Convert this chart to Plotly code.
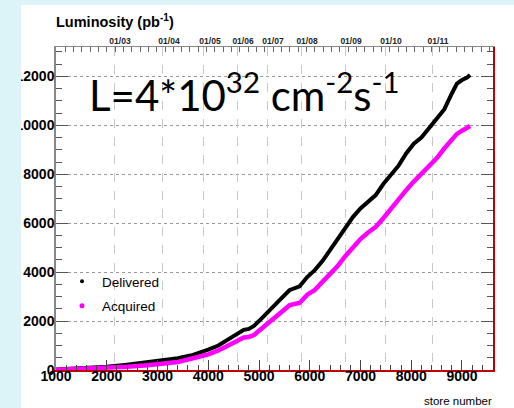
import plotly.graph_objects as go

# ---------------- data ----------------
store = [1000, 1300, 1600, 2000, 2400, 2800, 3100, 3400, 3700, 3800, 3850, 4000,
         4200, 4400, 4600, 4700, 4800, 4900, 5000, 5150, 5300, 5450, 5600, 5700,
         5800, 5950, 6100, 6250, 6400, 6550, 6700, 6850, 7000, 7150, 7300, 7450,
         7600, 7750, 7900, 8050, 8200, 8350, 8500, 8650, 8800, 8900, 9000, 9100, 9160]
delivered = [20, 50, 80, 130, 220, 310, 390, 480, 620, 680, 700, 830,
             1000, 1250, 1500, 1640, 1680, 1800, 2000, 2300, 2620, 2950, 3260, 3330,
             3420, 3800, 4080, 4450, 4900, 5300, 5800, 6250, 6600, 6850, 7150, 7600,
             7950, 8350, 8850, 9250, 9500, 9900, 10300, 10650, 11300, 11700, 11850, 11950, 12060]
acquired = [10, 30, 50, 80, 130, 190, 240, 330, 480, 530, 560, 640,
            800, 1000, 1250, 1330, 1350, 1430, 1600, 1850, 2100, 2380, 2640, 2700,
            2740, 3080, 3270, 3600, 3930, 4250, 4650, 5020, 5350, 5620, 5850, 6200,
            6600, 6950, 7350, 7700, 8020, 8300, 8650, 9050, 9450, 9650, 9780, 9880, 9970]

date_stores = [2143, 3108, 3916, 4567, 5158, 5828, 6695, 7483, 8409]
date_labels = ["01/03", "01/04", "01/05", "01/06", "01/07", "01/08", "01/09", "01/10", "01/11"]

x_range = [1000, 9611]
y_range = [0, 13200]

SANS = "Liberation Sans Narrow, Arial Narrow, Liberation Sans, Arial, sans-serif"
CYAN = "#dcf3f8"
RED = "#c00000"

fig = go.Figure()
fig.add_trace(go.Scatter(x=store, y=delivered, mode="lines", showlegend=False,
                         line=dict(color="black", width=4)))
fig.add_trace(go.Scatter(x=store, y=acquired, mode="lines", showlegend=False,
                         line=dict(color="#ff00ff", width=4.5)))
# legend entries (dots), also anchor the overlay axes
fig.add_trace(go.Scatter(x=[None], y=[None], mode="markers", name="Delivered",
                         legendgroup="d", marker=dict(color="black", size=4), xaxis="x2"))
fig.add_trace(go.Scatter(x=[None], y=[None], mode="markers", name="Acquired",
                         legendgroup="a", marker=dict(color="#ff00ff", size=5),
                         xaxis="x3", yaxis="y2"))

W, H = 514, 408
L, R, T, B = 56, 21, 47, 38
pw, ph = W - L - R, H - T - B

def px(xp):
    return (xp - L) / pw

def py(yp):
    return (H - B - yp) / ph

fig.update_layout(
    width=W, height=H,
    margin=dict(l=L, r=R, t=T, b=B, pad=0),
    paper_bgcolor="white", plot_bgcolor="white",
    xaxis=dict(range=x_range, tick0=1000, dtick=1000, ticks="inside", ticklen=10,
               tickcolor="#444", tickwidth=1, showline=True, linecolor=RED, linewidth=1.5,
               showgrid=False, zeroline=False, tickformat="d", ticklabelstandoff=-8,
               tickfont=dict(family=SANS, size=14, color="black", weight="bold"),
               minor=dict(dtick=200, ticks="inside", ticklen=5, tickcolor="#444")),
    xaxis2=dict(range=x_range, overlaying="x", side="top", tickmode="array",
                tickvals=date_stores, ticktext=date_labels, ticks="", showline=False,
                showgrid=True, gridcolor="#c8c8c8", griddash="dash", gridwidth=1,
                zeroline=False, ticklabelshift=6,
                tickfont=dict(family=SANS, size=8.5, color="#222", weight="bold")),
    xaxis3=dict(range=x_range, overlaying="x", side="top", tick0=1180, dtick=164,
                ticks="inside", ticklen=5, tickcolor="#666", showticklabels=False,
                showline=True, linecolor="#888", linewidth=1, showgrid=False, zeroline=False),
    yaxis=dict(range=y_range, dtick=2000, ticks="inside", ticklen=12, tickcolor="#555",
               showline=True, linecolor="#888", linewidth=1.5, showgrid=True,
               gridcolor="#999", griddash="dot", gridwidth=1, zeroline=False,
               tickformat="d", ticklabelstandoff=-3,
               tickfont=dict(family=SANS, size=14, color="black", weight="bold"),
               minor=dict(dtick=500, ticks="inside", ticklen=6, tickcolor="#555")),
    yaxis2=dict(range=y_range, overlaying="y", side="right", dtick=2000, ticks="inside",
                ticklen=12, tickcolor="#555", showticklabels=False, showline=True,
                linecolor=RED, linewidth=1.5, showgrid=False, zeroline=False,
                minor=dict(dtick=500, ticks="inside", ticklen=6, tickcolor="#555")),
    legend=dict(x=px(62), y=py(266), xanchor="left", yanchor="top", tracegroupgap=4,
                bgcolor="rgba(0,0,0,0)", font=dict(family=SANS, size=13.5, color="black"),
                itemwidth=30),
    shapes=[
        # the legend box hides part of the 4000 grid line
        dict(type="rect", xref="paper", yref="paper", x0=px(67), x1=px(195),
             y0=py(275), y1=py(271), fillcolor="white", line=dict(width=0), layer="between"),
        dict(type="rect", xref="paper", yref="paper", x0=px(0), x1=px(21), y0=py(H), y1=py(0),
             fillcolor=CYAN, line=dict(width=0), layer="above"),
        dict(type="rect", xref="paper", yref="paper", x0=px(0), x1=px(W), y0=py(5), y1=py(0),
             fillcolor=CYAN, line=dict(width=0), layer="above"),
    ],
    annotations=[
        dict(text="<b>Luminosity (pb<sup>-1</sup>)</b>", xref="paper", yref="paper",
             x=px(54), y=py(21), xanchor="left", yanchor="middle", showarrow=False,
             font=dict(family=SANS, size=14.5, color="black")),
        dict(text="store number", xref="paper", yref="paper",
             x=px(494), y=py(401), xanchor="right", yanchor="middle", showarrow=False,
             font=dict(family=SANS, size=11.5, color="black")),
        dict(text="L=4*10<sup>32</sup> cm<sup>-2</sup>s<sup>-1</sup>", xref="paper", yref="paper",
             x=px(87), y=py(92), xanchor="left", yanchor="middle", showarrow=False,
             font=dict(family="Lato, Open Sans, sans-serif", size=42, color="black")),
    ],
)

fig.write_html("out.html")
